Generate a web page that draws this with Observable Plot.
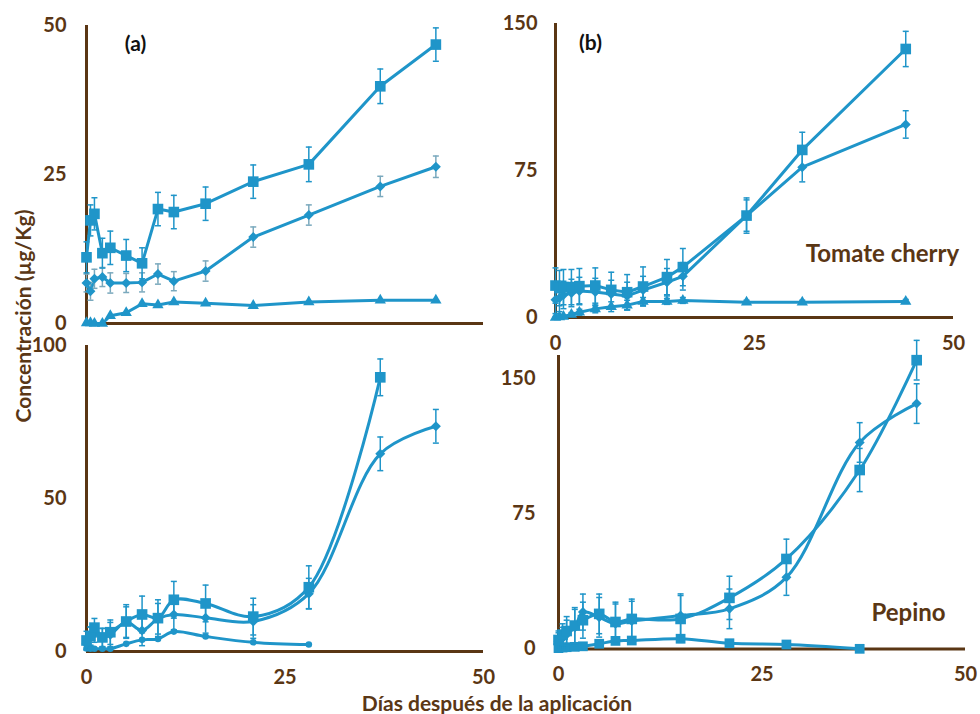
<!DOCTYPE html>
<html>
<head>
<meta charset="utf-8">
<script src="https://cdn.jsdelivr.net/npm/d3@7"></script>
<script src="https://cdn.jsdelivr.net/npm/@observablehq/plot@0.6"></script>
<style>
  body { margin: 0; background: #fff; }
  #fig { position: relative; width: 980px; height: 714px; overflow: hidden;
         font-family: Lato, "Open Sans", sans-serif; font-weight: 700; color: #5a3716; }
  #fig svg { position: absolute; }
  .ytitle { position: absolute; left: 22px; top: 316px; white-space: nowrap; font-size: 21px;
            transform: translate(-50%, -50%) rotate(-90deg); }
  .xtitle { position: absolute; left: 497px; top: 702px; white-space: nowrap; font-size: 21px;
            transform: translate(-50%, -50%); }
</style>
</head>
<body>
<div id="fig">
  <div class="ytitle">Concentración (µg/Kg)</div>
  <div class="xtitle">Días después de la aplicación</div>
</div>
<script>
// ---- Tomate cherry, ensayo (a) ----
const diasA = [0, 0.5, 1, 2, 3, 5, 7, 9, 11, 15, 21, 28, 37, 44];
const aCuadrado = [11.1, 17.3, 18.4, 11.8, 12.7, 11.4, 10.1, 19.2, 18.7, 20.1, 23.8, 26.7, 39.8, 46.8];
const aCuadradoErr = [2.6, 2.6, 2.7, 2.5, 2.8, 2.7, 2.6, 2.8, 2.8, 2.8, 2.8, 2.9, 2.9, 2.8];
const aRombo = [6.8, 5.4, 7.5, 7.8, 6.8, 6.8, 6.9, 8.3, 7.1, 8.8, 14.5, 18.2, 23.0, 26.3];
const aRomboErr = [1.5, 1.5, 1.6, 1.6, 1.7, 1.6, 1.6, 1.7, 1.6, 1.7, 1.7, 1.7, 1.7, 1.8];
const aTriangulo = [0.1, 0.1, 0.0, 0.0, 1.3, 1.8, 3.3, 3.1, 3.6, 3.4, 3.0, 3.6, 3.9, 3.9];

// ---- Tomate cherry, ensayo (b) ----
const diasB = [0, 0.5, 1, 2, 3, 5, 7, 9, 11, 14, 16, 24, 31, 44];
const bCuadrado = [16.3, 15.0, 15.5, 15.5, 16.0, 16.3, 14.1, 12.9, 15.8, 20.6, 25.7, 52.0, 85.5, 137.0];
const bCuadradoErr = [9, 9, 9, 9, 9, 9, 9, 9, 10, 9, 9.5, 9, 9, 9];
const bRombo = [9.0, 10.0, 11.5, 12.5, 13.5, 13.0, 12.0, 11.0, 14.0, 18.0, 21.0, 52.0, 76.7, 98.5];
const bRomboErr = [7, 7, 7, 7, 7, 7, 7, 7, 7, 7, 7, 8, 7.5, 7];
const bTriangulo = [0.0, 0.3, 0.5, 1.5, 2.7, 4.4, 5.5, 6.3, 8.2, 8.2, 8.7, 7.8, 7.8, 8.2];
const bTrianguloErr = [0.5, 0.5, 0.5, 1, 1.5, 2, 2.5, 2.5, 2, 1.5, 1.5, 1, 1, 1];

// ---- Pepino, ensayo (a) ----
const diasC = [0, 0.5, 1, 2, 3, 5, 7, 9, 11, 15, 21, 28, 37, 44];
const cCuadrado = [3.6, 5.0, 7.8, 4.6, 6.3, 9.8, 12.1, 10.9, 16.9, 15.7, 11.4, 21.0, 89.6];
const cCuadradoErr = [3, 3, 3, 3, 4, 5.5, 6, 6, 6, 6, 6, 7, 6];
const cRombo = [2.5, 5.0, 6.0, 4.5, 5.5, 9.6, 6.9, 10.7, 12.1, 11.0, 9.8, 18.9, 64.6, 73.6];
const cRomboErr = [2, 3, 3, 3, 4, 5, 5, 5, 5, 5, 5.5, 5, 5.5, 5.5];
const cCirculo = [1.0, 0.9, 0.9, 0.9, 0.9, 2.5, 3.8, 4.1, 6.5, 4.9, 3.0, 2.3];

// ---- Pepino, ensayo (b) ----
const diasD = [0, 0.5, 1, 2, 3, 5, 7, 9, 15, 21, 28, 37, 44];
const dCuadrado = [5.0, 8.0, 10.0, 13.0, 16.0, 19.5, 15.0, 16.7, 16.7, 28.4, 50.0, 99.4, 160.4];
const dCuadradoErr = [5, 6, 8, 10, 10, 11, 11, 11, 13, 12, 11, 12, 11];
const dRombo = [4.0, 6.0, 8.0, 12.0, 20.5, 17.6, 14.0, 15.5, 18.6, 22.3, 39.8, 114.7, 136.3];
const dRomboErr = [5, 6, 8, 10, 10, 11, 11, 11, 12, 11, 10, 11, 11];
const dBajo = [0.5, 0.8, 1.0, 1.2, 1.5, 2.9, 4.5, 4.7, 5.7, 3.2, 2.5, 0.1];

// ---- Ejes ----
const ticksX = [0, 25, 50];
const ticksYA = [0, 25, 50];
const ticksYB = [0, 75, 150];
const ticksYC = [0, 50, 100];
const ticksYD = [0, 75, 150];

const azul = "#1f95c9";
const azulClaro = "#7aa9bd";
const cafe = "#5a3614";

function serie(dias, valores, errores) {
  return valores.map((v, i) => ({dia: dias[i], v, e: errores ? errores[i] : 0}));
}

// Remate horizontal de las barras de error
const remate = {
  draw(ctx, size) {
    const w = Math.sqrt(size / Math.PI);
    ctx.moveTo(-w, 0);
    ctx.lineTo(w, 0);
  }
};

function capas(datos, {simbolo, r, curva = "linear", ancho = 3, colorError = azul}) {
  const conErr = datos.filter(d => d.e > 0);
  return [
    Plot.line(datos, {x: "dia", y: "v", stroke: azul, strokeWidth: ancho, curve: curva}),
    Plot.ruleX(conErr, {x: "dia", y1: d => Math.max(0, d.v - d.e), y2: d => d.v + d.e,
                        stroke: colorError, strokeWidth: 1.5}),
    Plot.dot(conErr, {x: "dia", y: d => d.v + d.e, symbol: remate, r: 3,
                      stroke: colorError, strokeWidth: 1.5}),
    Plot.dot(conErr.filter(d => d.v - d.e > 0), {x: "dia", y: d => d.v - d.e, symbol: remate, r: 3,
                      stroke: colorError, strokeWidth: 1.5}),
    Plot.dot(datos, {x: "dia", y: "v", symbol: simbolo, r, fill: azul, stroke: "none"})
  ];
}

function panel({izq, arriba, ancho, alto, mIzq, mDer, mSup, mInf, yDominio, yTicks, padY,
                ejeX, marcas}) {
  const svg = Plot.plot({
    width: ancho, height: alto,
    marginLeft: mIzq, marginRight: mDer, marginTop: mSup, marginBottom: mInf,
    style: {background: "transparent", fontFamily: "Lato, 'Open Sans', sans-serif",
            fontSize: "20px", fontWeight: 700, color: cafe, overflow: "visible"},
    x: {domain: [0, 50], axis: ejeX ? "bottom" : null, ticks: ticksX, tickSize: 0,
        tickPadding: 18, label: null, tickFormat: d => String(d)},
    y: {domain: yDominio, ticks: yTicks, tickSize: 0, tickPadding: padY, label: null,
        tickFormat: d => String(d)},
    marks: [
      Plot.ruleX([0], {stroke: cafe, strokeWidth: 3}),
      Plot.ruleY([0], {stroke: cafe, strokeWidth: 3}),
      ...marcas
    ]
  });
  svg.style.left = izq + "px";
  svg.style.top = arriba + "px";
  document.getElementById("fig").appendChild(svg);
}

const etiqueta = (texto, opciones) => Plot.text([texto], {
  frameAnchor: opciones.ancla, dx: opciones.dx, dy: opciones.dy,
  textAnchor: "middle", lineAnchor: "middle",
  fontSize: opciones.tam, fontWeight: 700, fill: opciones.color
});

// (a) Tomate cherry
panel({
  izq: 0, arriba: 0, ancho: 490, alto: 332, mIzq: 86, mDer: 7, mSup: 25, mInf: 9,
  yDominio: [0, 50], yTicks: ticksYA, padY: 20, ejeX: false,
  marcas: [
    ...capas(serie(diasA, aTriangulo), {simbolo: "triangle", r: 4.2}),
    ...capas(serie(diasA, aRombo, aRomboErr), {simbolo: "diamond2", r: 4.5, colorError: azulClaro}),
    ...capas(serie(diasA, aCuadrado, aCuadradoErr), {simbolo: "square", r: 6}),
    etiqueta("(a)", {ancla: "top-left", dx: 49, dy: 19, tam: 21, color: "#111"})
  ]
});

// (b) Tomate cherry
panel({
  izq: 490, arriba: 0, ancho: 490, alto: 352, mIzq: 65, mDer: 27, mSup: 23, mInf: 35,
  yDominio: [0, 150], yTicks: ticksYB, padY: 18, ejeX: true,
  marcas: [
    ...capas(serie(diasB, bTriangulo, bTrianguloErr), {simbolo: "triangle", r: 4.2}),
    ...capas(serie(diasB, bRombo, bRomboErr), {simbolo: "diamond2", r: 4.5}),
    ...capas(serie(diasB, bCuadrado, bCuadradoErr), {simbolo: "square", r: 6}),
    etiqueta("(b)", {ancla: "top-left", dx: 35, dy: 20, tam: 21, color: "#111"}),
    etiqueta("Tomate cherry", {ancla: "bottom-right", dx: -71, dy: -63, tam: 24, color: cafe})
  ]
});

// (a) Pepino
panel({
  izq: 0, arriba: 332, ancho: 490, alto: 368, mIzq: 86, mDer: 7, mSup: 13, mInf: 49,
  yDominio: [0, 100], yTicks: ticksYC, padY: 20, ejeX: true,
  marcas: [
    ...capas(serie(diasC, cCirculo), {simbolo: "circle", r: 3.3, curva: "catmull-rom"}),
    ...capas(serie(diasC, cRombo, cRomboErr), {simbolo: "diamond2", r: 4.5, curva: "catmull-rom"}),
    ...capas(serie(diasC, cCuadrado, cCuadradoErr), {simbolo: "square", r: 6, curva: "catmull-rom"})
  ]
});

// (b) Pepino
panel({
  izq: 490, arriba: 352, ancho: 490, alto: 348, mIzq: 68, mDer: 15, mSup: 3, mInf: 51.5,
  yDominio: [0, 163], yTicks: ticksYD, padY: 23, ejeX: true,
  marcas: [
    ...capas(serie(diasD, dBajo), {simbolo: "square", r: 5.5, curva: "catmull-rom"}),
    ...capas(serie(diasD, dRombo, dRomboErr), {simbolo: "diamond2", r: 4.5, curva: "catmull-rom"}),
    ...capas(serie(diasD, dCuadrado, dCuadradoErr), {simbolo: "square", r: 6, curva: "catmull-rom"}),
    etiqueta("Pepino", {ancla: "bottom-right", dx: -57, dy: -36, tam: 24, color: cafe})
  ]
});
</script>
</body>
</html>
